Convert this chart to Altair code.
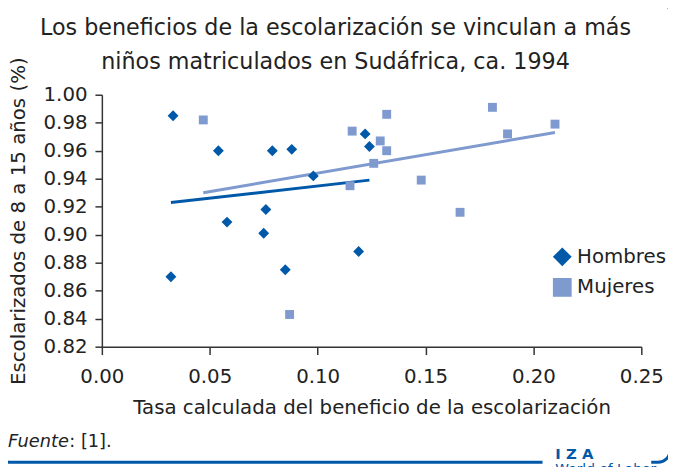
import altair as alt
import pandas as pd

# ---- data ----
hombres_x = [0.033, 0.054, 0.079, 0.088, 0.098, 0.122, 0.124, 0.076, 0.058, 0.075, 0.119, 0.085, 0.032]
hombres_y = [0.985, 0.960, 0.960, 0.961, 0.942, 0.972, 0.963, 0.918, 0.909, 0.901, 0.888, 0.875, 0.870]

mujeres_x = [0.047, 0.116, 0.132, 0.129, 0.132, 0.126, 0.115, 0.148, 0.166, 0.181, 0.188, 0.210, 0.087]
mujeres_y = [0.982, 0.974, 0.986, 0.967, 0.960, 0.951, 0.935, 0.939, 0.916, 0.991, 0.972, 0.979, 0.843]

hombres_trend_x = [0.032, 0.124]
hombres_trend_y = [0.923, 0.939]
mujeres_trend_x = [0.047, 0.210]
mujeres_trend_y = [0.930, 0.973]

series = ["Hombres", "Mujeres"]
colors = ["#0059A8", "#7F9ACF"]
shapes = ["diamond", "square"]

x_ticks = [0.00, 0.05, 0.10, 0.15, 0.20, 0.25]
y_ticks = [0.82, 0.84, 0.86, 0.88, 0.90, 0.92, 0.94, 0.96, 0.98, 1.00]

title_lines = ["Los beneficios de la escolarización se vinculan a más",
               "niños matriculados en Sudáfrica, ca. 1994"]
x_title = "Tasa calculada del beneficio de la escolarización"
y_title = "Escolarizados de 8 a 15 años (%)"

FONT = "DejaVu Sans"
FRAME = "#0059A8"

pts_h = pd.DataFrame({"x": hombres_x, "y": hombres_y, "Sexo": ["Hombres"] * len(hombres_x)})
pts_m = pd.DataFrame({"x": mujeres_x, "y": mujeres_y, "Sexo": ["Mujeres"] * len(mujeres_x)})
trend_h = pd.DataFrame({"x": hombres_trend_x, "y": hombres_trend_y})
trend_m = pd.DataFrame({"x": mujeres_trend_x, "y": mujeres_trend_y})
one = pd.DataFrame({"a": [0]})

x_enc = alt.X("x:Q", scale=alt.Scale(domain=[0, 0.25], nice=False, zero=False),
              axis=alt.Axis(values=x_ticks, format=".2f", title=x_title, grid=False,
                            tickSize=8, labelPadding=12, titlePadding=12,
                            labelFlush=False, labelOverlap=False))
y_enc = alt.Y("y:Q", scale=alt.Scale(domain=[0.82, 1.0], nice=False, zero=False),
              axis=alt.Axis(values=y_ticks, format=".2f", title=y_title, grid=False,
                            tickSize=7, labelPadding=8, titlePadding=15,
                            labelFlush=False, labelOverlap=False))

color_enc = alt.Color("Sexo:N", scale=alt.Scale(domain=series, range=colors),
                      legend=alt.Legend(orient="none", legendX=456, legendY=154, title=None,
                                        labelFont=FONT, labelFontSize=20, labelColor="#222",
                                        symbolSize=361, rowPadding=11, labelOffset=5,
                                        symbolStrokeWidth=0))
shape_enc = alt.Shape("Sexo:N", scale=alt.Scale(domain=series, range=shapes))

frame = alt.Chart(one).mark_rect(fillOpacity=0, stroke=FRAME, strokeWidth=3,
                                 cornerRadius=12).encode(
    x=alt.value(-105), x2=alt.value(575), y=alt.value(-95), y2=alt.value(372))
gap = alt.Chart(one).mark_rect(fill="white").encode(
    x=alt.value(446), x2=alt.value(556), y=alt.value(352), y2=alt.value(378))

line_m = alt.Chart(trend_m).mark_line(color=colors[1], strokeWidth=3).encode(x=x_enc, y=y_enc)
line_h = alt.Chart(trend_h).mark_line(color=colors[0], strokeWidth=3).encode(x=x_enc, y=y_enc)

points_m = alt.Chart(pts_m).mark_point(filled=True, opacity=1, size=81).encode(
    x=x_enc, y=y_enc, color=color_enc, shape=shape_enc)
points_h = alt.Chart(pts_h).mark_point(filled=True, opacity=1, size=121).encode(
    x=x_enc, y=y_enc, color=color_enc, shape=shape_enc)

title1 = alt.Chart(one).mark_text(text=title_lines[0], align="center", baseline="alphabetic",
                                  font=FONT, fontSize=22.5, color="#222").encode(
    x=alt.value(236.5), y=alt.value(-60))
title2 = alt.Chart(one).mark_text(text=title_lines[1], align="center", baseline="alphabetic",
                                  font=FONT, fontSize=22.5, color="#222").encode(
    x=alt.value(236.5), y=alt.value(-26.5))

fuente = alt.Chart(one).mark_text(text="Fuente", align="left", baseline="alphabetic",
                                  font=FONT, fontSize=18, fontStyle="italic", color="#222").encode(
    x=alt.value(-95), y=alt.value(357))
fuente2 = alt.Chart(one).mark_text(text=": [1].", align="left", baseline="alphabetic",
                                   font=FONT, fontSize=18, color="#222").encode(
    x=alt.value(-33), y=alt.value(357))
iza = alt.Chart(one).mark_text(text="I Z A", align="left", baseline="alphabetic",
                               font=FONT, fontSize=15, fontWeight="bold", color=FRAME).encode(
    x=alt.value(459), y=alt.value(369))
wol = alt.Chart(one).mark_text(text="World of Labor", align="left", baseline="top",
                               font=FONT, fontSize=14, color=FRAME).encode(
    x=alt.value(459), y=alt.value(373))

chart = alt.layer(frame, gap, line_m, line_h, points_m, points_h,
                  title1, title2, fuente, fuente2, iza, wol).properties(
    width=546, height=255,
    autosize=alt.AutoSizeParams(type="none"),
    padding={"left": 95, "top": 85, "right": 27, "bottom": 119},
).configure_view(stroke=None).configure_axis(
    domainColor="#333", domainWidth=1.5, tickColor="#333", tickWidth=1.5,
    labelColor="#222", titleColor="#222", labelFont=FONT, labelFontSize=20,
    titleFont=FONT, titleFontSize=20, titleFontWeight="normal",
)

chart.save("out.html", embed_options={"renderer": "svg", "actions": False})
